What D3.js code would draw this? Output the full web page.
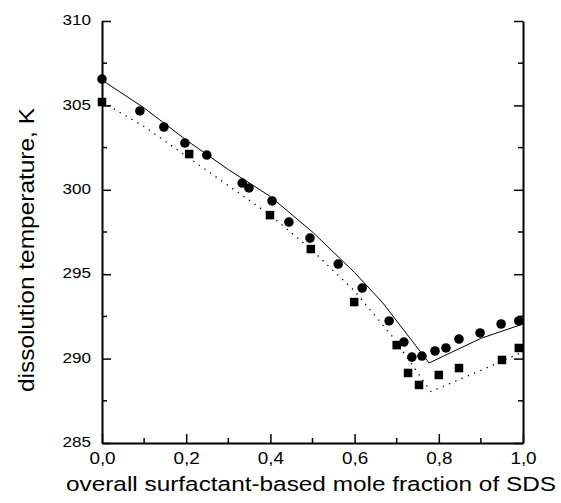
<!DOCTYPE html>
<html>
<head>
<meta charset="utf-8">
<script src="https://cdn.jsdelivr.net/npm/d3@7"></script>
<style>
  body { margin: 0; background: #fff; }
  text { font-family: "Liberation Sans", Arial, sans-serif; fill: #000; }
</style>
</head>
<body>
<script>
// measured circles (series 1)
const circleX = [0, 0.09, 0.147, 0.197, 0.249, 0.333, 0.349, 0.404, 0.444, 0.494, 0.561, 0.618,
                 0.682, 0.717, 0.736, 0.760, 0.791, 0.817, 0.848, 0.898, 0.948, 0.990];
const circleT = [306.56, 304.67, 303.72, 302.77, 302.06, 300.40, 300.11, 299.34, 298.09, 297.14, 295.60, 294.18,
                 292.23, 290.98, 290.09, 290.15, 290.45, 290.63, 291.16, 291.52, 292.05, 292.23];
// measured squares (series 2)
const squareX = [0, 0.207, 0.399, 0.496, 0.599, 0.700, 0.727, 0.753, 0.800, 0.848, 0.950, 0.990];
const squareT = [305.2, 302.12, 298.5, 296.49, 293.35, 290.8, 289.15, 288.44, 289.03, 289.44, 289.92, 290.63];
// model curves
const solidX = [0, 0.1, 0.2, 0.3, 0.4, 0.5, 0.6, 0.667, 0.777, 0.9, 1.0];
const solidT = [306.5, 304.85, 302.95, 301.2, 299.6, 297.5, 295.1, 293.3, 289.74, 291.2, 292.05];
const dottedX = [0, 0.1, 0.2, 0.3, 0.4, 0.5, 0.6, 0.69, 0.781, 0.9, 1.0];
const dottedT = [305.2, 303.75, 302.0, 300.25, 298.5, 296.4, 294.0, 291.3, 288.05, 289.3, 290.4];

const xTicks = [0, 0.2, 0.4, 0.6, 0.8, 1.0];
const yTicks = [285, 290, 295, 300, 305, 310];

const width = 561, height = 503;
const margin = {top: 21, right: 38, bottom: 60, left: 102};
const sx = 1.18; // the scanned lettering is wide

const svg = d3.select("body").append("svg")
    .attr("width", width)
    .attr("height", height);

const x = d3.scaleLinear()
    .domain([0, 1])
    .range([margin.left, width - margin.right]);

const y = d3.scaleLinear()
    .domain([285, 310])
    .range([height - margin.bottom, margin.top]);

const fmt = d => d3.format(".1f")(d).replace(".", ",");

// bottom axis
const xAxis = g => g
  .attr("transform", `translate(0,${height - margin.bottom})`)
  .call(d3.axisBottom(x).tickValues(xTicks).tickFormat(fmt).tickSizeInner(-9).tickSizeOuter(0).tickPadding(10))
  .call(g => g.selectAll(".tick text")
    .attr("font-size", 16)
    .attr("transform", `scale(${sx},1)`))
  .call(g => g.append("g").selectAll("line")
    .data(d3.range(0.1, 1, 0.2))
    .join("line")
      .attr("x1", d => x(d)).attr("x2", d => x(d))
      .attr("y1", 0).attr("y2", -5)
      .attr("stroke", "#000").attr("stroke-width", 1.5));

// left axis
const yAxis = g => g
  .attr("transform", `translate(${margin.left},0)`)
  .call(d3.axisLeft(y).tickValues(yTicks).tickSizeInner(-9).tickSizeOuter(0))
  .call(g => g.selectAll(".tick text")
    .attr("font-size", 14.5)
    .attr("x", -11 / sx)
    .attr("dy", "0.25em")
    .attr("transform", `scale(${sx},1)`))
  .call(g => g.append("g").selectAll("line")
    .data(d3.range(287.5, 310, 5))
    .join("line")
      .attr("y1", d => y(d)).attr("y2", d => y(d))
      .attr("x1", 0).attr("x2", 5)
      .attr("stroke", "#000").attr("stroke-width", 1.5));

// right axis, ticks only
const yAxisRight = g => g
  .attr("transform", `translate(${width - margin.right},0)`)
  .call(d3.axisRight(y).tickValues(yTicks).tickFormat("").tickSizeInner(-9).tickSizeOuter(0))
  .call(g => g.append("g").selectAll("line")
    .data(d3.range(287.5, 310, 5))
    .join("line")
      .attr("y1", d => y(d)).attr("y2", d => y(d))
      .attr("x1", 0).attr("x2", -5)
      .attr("stroke", "#000").attr("stroke-width", 1.5));

svg.append("g").call(xAxis);
svg.append("g").call(yAxis);
svg.append("g").call(yAxisRight);

svg.selectAll(".domain").attr("stroke-width", 2);
svg.selectAll(".tick line").attr("stroke-width", 1.5);

const line = d3.line()
    .x(d => x(d[0]))
    .y(d => y(d[1]));

svg.append("path")
    .datum(d3.zip(solidX, solidT))
    .attr("fill", "none")
    .attr("stroke", "#000")
    .attr("stroke-width", 1)
    .attr("d", line);

svg.append("path")
    .datum(d3.zip(dottedX, dottedT))
    .attr("fill", "none")
    .attr("stroke", "#000")
    .attr("stroke-width", 1.3)
    .attr("stroke-dasharray", "1.3,5.5")
    .attr("d", line);

svg.append("g")
  .selectAll("circle")
  .data(d3.zip(circleX, circleT))
  .join("circle")
    .attr("cx", d => x(d[0]))
    .attr("cy", d => y(d[1]))
    .attr("r", 4.8)
    .attr("fill", "#000");

svg.append("g")
  .selectAll("rect")
  .data(d3.zip(squareX, squareT))
  .join("rect")
    .attr("x", d => x(d[0]) - 4.25)
    .attr("y", d => y(d[1]) - 4.25)
    .attr("width", 8.5)
    .attr("height", 8.5)
    .attr("fill", "#000");

svg.append("text")
    .attr("x", 66)
    .attr("y", 491)
    .attr("font-size", 20.5)
    .attr("textLength", 490)
    .attr("lengthAdjust", "spacingAndGlyphs")
    .text("overall surfactant-based mole fraction of SDS");

svg.append("text")
    .attr("transform", "translate(34,392) rotate(-90)")
    .attr("font-size", 22)
    .attr("textLength", 284)
    .attr("lengthAdjust", "spacingAndGlyphs")
    .text("dissolution temperature, K");
</script>
</body>
</html>
